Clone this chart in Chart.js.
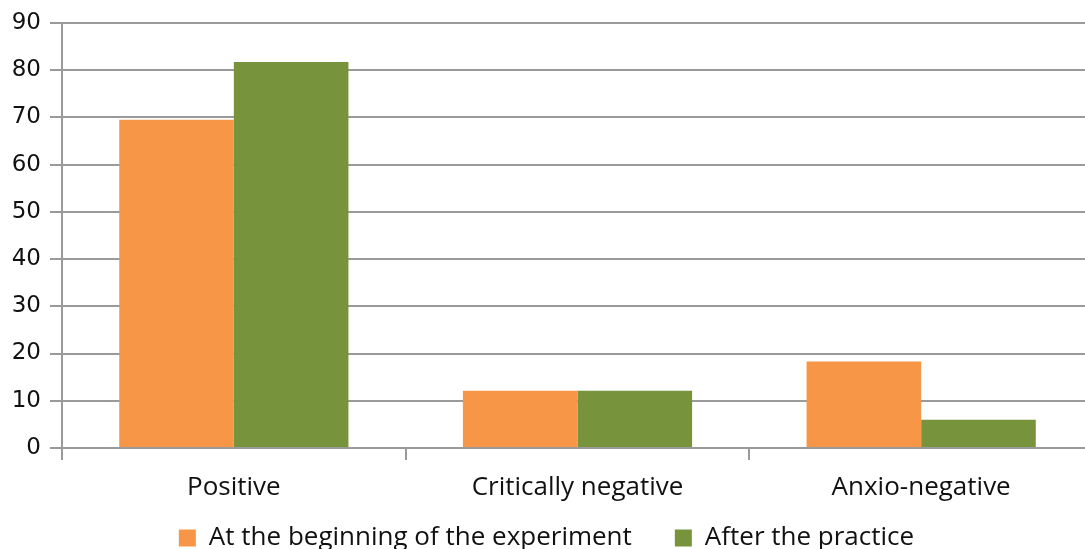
<!DOCTYPE html>
<html>
<head>
<meta charset="utf-8">
<script src="https://cdn.jsdelivr.net/npm/chart.js@4.4.1/dist/chart.umd.min.js"></script>
<style>
  html, body { margin: 0; padding: 0; background: #fff; overflow: hidden; }
  #wrap { position: relative; width: 1093px; height: 587px; }
</style>
</head>
<body>
<div id="wrap"><canvas id="chart"></canvas></div>
<script>
// categories and series values
var categories = ["Positive", "Critically negative", "Anxio-negative"];
var beginningValues = [69.5, 12.1, 18.3];
var practiceValues = [81.7, 12.1, 6.0];
var seriesNames = ["At the beginning of the experiment", "After the practice"];

var gridColor = '#9a9a9a';

// legend padding is wide for the gap between items; pull the legend up closer to the labels
var legendShift = {
    id: 'legendShift',
    afterLayout: function(chart) {
        chart.legend.top -= 26;
        chart.legend.bottom -= 26;
    }
};

var ctx = document.getElementById("chart").getContext("2d");
new Chart(ctx, {
    type: 'bar',
    data: {
        labels: categories,
        datasets: [{
            label: seriesNames[0],
            data: beginningValues,
            backgroundColor: '#f79646',
            categoryPercentage: 0.667,
            barPercentage: 1.0
        }, {
            label: seriesNames[1],
            data: practiceValues,
            backgroundColor: '#77933c',
            categoryPercentage: 0.667,
            barPercentage: 1.0
        }]
    },
    plugins: [legendShift],
    options: {
        responsive: true,
        maintainAspectRatio: false,
        animation: false,
        layout: { padding: { top: 14, left: 0, right: 0, bottom: 0 } },
        plugins: {
            tooltip: { enabled: false },
            legend: {
                position: 'bottom',
                labels: {
                    color: '#111',
                    font: { family: 'Open Sans', size: 26 },
                    boxWidth: 17,
                    boxHeight: 17,
                    padding: 43
                }
            }
        },
        scales: {
            x: {
                grid: {
                    offset: true,
                    drawOnChartArea: false,
                    drawTicks: true,
                    tickLength: 12,
                    color: gridColor,
                    lineWidth: 2
                },
                border: { color: gridColor, width: 2 },
                ticks: {
                    color: '#111',
                    font: { family: 'Open Sans', size: 26 },
                    padding: 12
                },
                afterFit: function(scale) { scale.height = 60; }
            },
            y: {
                min: 0,
                max: 90,
                ticks: {
                    stepSize: 10,
                    color: '#111',
                    font: { family: 'DejaVu Sans', size: 23 },
                    padding: 9
                },
                grid: {
                    color: gridColor,
                    lineWidth: 2,
                    tickLength: 12
                },
                border: { color: gridColor, width: 2 },
                afterFit: function(scale) { scale.width = 62; }
            }
        }
    }
});
</script>
</body>
</html>
